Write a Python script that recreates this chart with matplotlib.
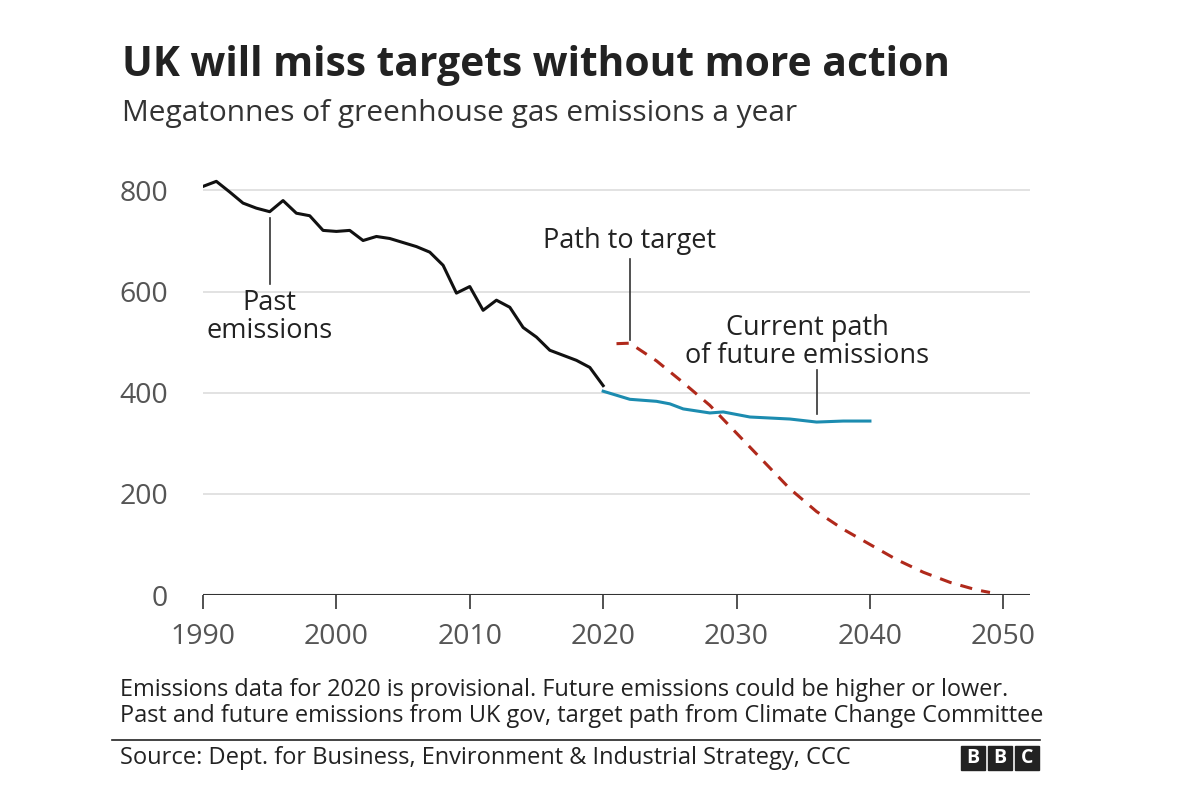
import matplotlib
matplotlib.use("Agg")
import matplotlib.pyplot as plt

past_years = list(range(1990, 2021))
past_vals = [808, 818, 797, 775, 765, 758, 780, 755, 750, 721, 719, 721, 701, 709, 705, 697,
             689, 678, 652, 597, 610, 563, 583, 569, 529, 510, 484, 474, 464, 450, 414]
cur_years = [2020, 2022, 2024, 2025, 2026, 2028, 2029, 2031, 2034, 2036, 2038, 2040]
cur_vals = [403, 387, 383, 378, 368, 360, 362, 352, 348, 342, 344, 344]
tgt_years = [2021, 2022, 2024, 2026, 2028, 2030, 2032, 2034, 2036, 2038, 2040, 2042, 2044, 2046, 2048, 2049]
tgt_vals = [497, 498, 463, 420, 375, 320, 265, 210, 165, 130, 100, 70, 45, 25, 10, 5]
yticks = [0, 200, 400, 600, 800]
xticks = [1990, 2000, 2010, 2020, 2030, 2040, 2050]

plt.rcParams['font.family'] = ['Open Sans', 'DejaVu Sans']
fig = plt.figure(figsize=(12, 8.07), dpi=100)
ax = fig.add_axes([203/1200, 1-595/807, (1030-203)/1200, (595-150)/807])
ax.set_xlim(1990, 2052)
ax.set_ylim(0, 880)
for s in ax.spines.values():
    s.set_visible(False)
for t in yticks[1:]:
    ax.axhline(t, color='#dddddd', lw=1.2, zorder=0)
ax.axhline(0, color='#333333', lw=1.5, zorder=1)
ax.set_yticks(yticks)
ax.set_xticks(xticks)
ax.tick_params(axis='y', length=0, labelsize=20.5, labelcolor='#555555', pad=25)
ax.tick_params(axis='x', length=10, width=1.2, color='#333333', labelsize=20.5, labelcolor='#555555', pad=10)

ax.plot(past_years, past_vals, color='#111111', lw=2.2, zorder=3)
ax.plot(cur_years, cur_vals, color='#1c8cb0', lw=2.2, zorder=3)
ax.plot(tgt_years, tgt_vals, color='#b0291b', lw=2.2, ls=(0, (4, 3)), zorder=3)

tc = '#222222'
ax.plot([1995, 1995], [745, 615], color='#333333', lw=1.2)
ax.text(1995, 605, "Past\nemissions", ha='center', va='top', fontsize=19.5, color=tc, linespacing=1.0)
ax.plot([2022, 2022], [665, 505], color='#333333', lw=1.2)
ax.text(2022, 672, "Path to target", ha='center', va='bottom', fontsize=19.5, color=tc)
ax.plot([2036, 2036], [445, 358], color='#333333', lw=1.2)
ax.text(2035.3, 445, "Current path\nof future emissions", ha='center', va='bottom', fontsize=19.5, color=tc, linespacing=1.0)

fig.text(122/1200, 1-65/807, "UK will miss targets without more action", fontsize=29.3, fontweight='bold', color='#222222', va='center')
fig.text(122/1200, 1-113/807, "Megatonnes of greenhouse gas emissions a year", fontsize=21.5, color='#333333', va='center')
fig.text(120/1200, 1-703/807, "Emissions data for 2020 is provisional. Future emissions could be higher or lower.\nPast and future emissions from UK gov, target path from Climate Change Committee",
         fontsize=16.9, color='#222222', va='center', linespacing=1.15)
fig.add_artist(plt.Line2D([112/1200, 1040/1200], [1-740/807]*2, color='#222222', lw=1.2))
fig.text(120/1200, 1-758/807, "Source: Dept. for Business, Environment & Industrial Strategy, CCC", fontsize=17, color='#222222', va='center')
for i, ch in enumerate("BBC"):
    x0 = 961 + i*27
    fig.add_artist(plt.Rectangle((x0/1200, 1-770/807), 24/1200, 24/807, color='#222222'))
    fig.text((x0+12)/1200, 1-758/807, ch, color='white', fontsize=14, fontweight='bold', ha='center', va='center')

fig.savefig("out.png", dpi=100, facecolor='white')
